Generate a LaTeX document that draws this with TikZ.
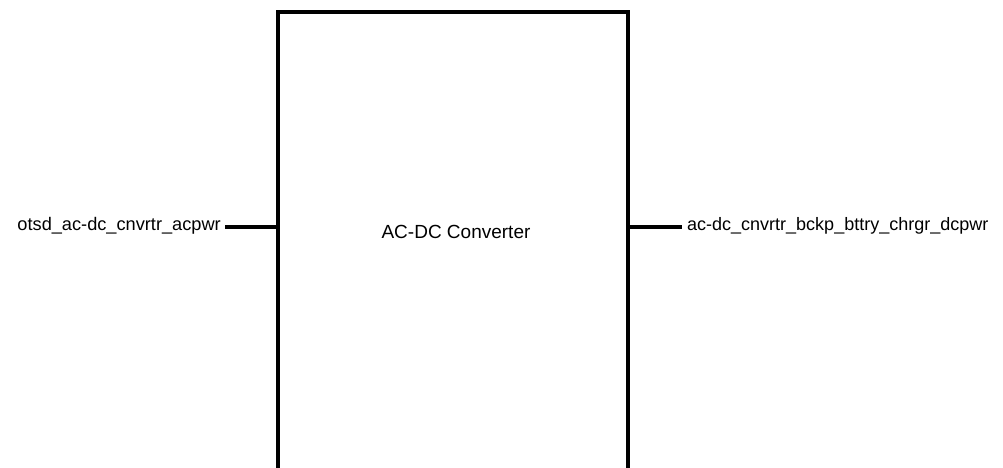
\documentclass[tikz,border=0pt]{standalone}
\usepackage{fontspec}
\setmainfont{Liberation Sans}
\begin{document}
\begin{tikzpicture}[x=1pt,y=-1pt,
  blockline/.style={line width=4pt, line cap=rect},
  wire/.style={line width=4pt},
  lbl/.style={font=\fontsize{18.2}{22}\selectfont, inner sep=0pt}]
\useasboundingbox (0,0) rectangle (1003,467);
\clip (0,0) rectangle (1003,467);
\node[draw, blockline, minimum width=350pt, minimum height=520pt, inner sep=0pt, outer sep=0pt, anchor=north west] (box) at (278,12) {};
\node[lbl, font=\fontsize{19}{23}\selectfont] (title) at (456,232) {AC-DC Converter};
\node[lbl, anchor=east] (inlbl) at (221,226) {otsd\_ac-dc\_cnvrtr\_acpwr};
\node[lbl, anchor=west, font=\fontsize{18}{22}\selectfont] (outlbl) at (687,226) {ac-dc\_cnvrtr\_bckp\_bttry\_chrgr\_dcpwr};
\coordinate (inend) at (225,227);
\coordinate (outend) at (682,227);
\draw[wire] (inend) -- (inend -| box.west);
\draw[wire] (box.east |- outend) -- (outend);
\end{tikzpicture}
\end{document}
